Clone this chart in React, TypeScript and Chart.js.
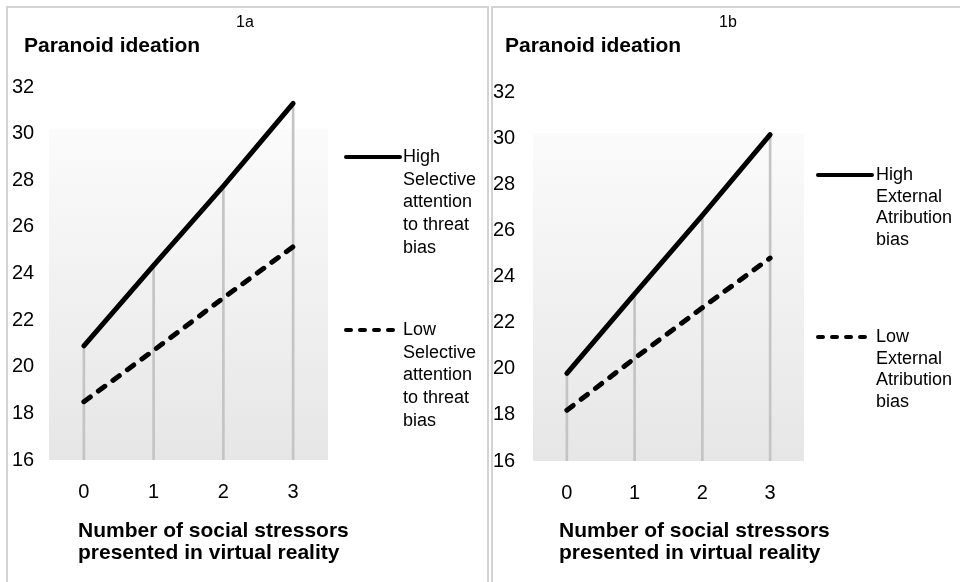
import React, { useEffect, useRef } from "react";
import { Chart, registerables } from "chart.js";

Chart.register(...registerables);

// ---------- data ----------
const CATEGORIES = ["0", "1", "2", "3"];
const Y_MIN = 16;
const Y_MAX = 32;
const Y_STEP = 2;

const HIGH_1A = [20.9, 24.35, 27.75, 31.3];
const LOW_1A = [18.5, 20.7, 22.95, 25.15];
const HIGH_1B = [19.8, 23.25, 26.65, 30.15];
const LOW_1B = [18.2, 20.45, 22.65, 24.8];

const PANEL_TITLES = ["1a", "1b"];
const Y_TITLE = "Paranoid ideation";
const X_TITLE = ["Number of social stressors", "presented in virtual reality"];
const LEGEND_1A_HIGH = ["High", "Selective", "attention", "to threat", "bias"];
const LEGEND_1A_LOW = ["Low", "Selective", "attention", "to threat", "bias"];
const LEGEND_1B_HIGH = ["High", "External", "Atribution", "bias"];
const LEGEND_1B_LOW = ["Low", "External", "Atribution", "bias"];

const FONT = "'Liberation Sans', Arial, Helvetica, sans-serif";

type PanelCfg = {
  title: string;
  titleCenter: number;
  high: number[];
  low: number[];
  highLabel: string[];
  lowLabel: string[];
  canvasLeft: number;
  canvasWidth: number;
  padLeft: number;
  padRight: number;
  padTop: number;
  yAxisWidth: number;
  xAxisHeight: number;
  legend: { x0: number; x1: number; tx: number; highY: number; lowY: number; lh: number };
  yTitleLeft: number;
  xTitleLeft: number;
  boxLeft: number;
  boxWidth: number;
};

const PANELS: PanelCfg[] = [
  {
    title: PANEL_TITLES[0],
    titleCenter: 245,
    high: HIGH_1A,
    low: LOW_1A,
    highLabel: LEGEND_1A_HIGH,
    lowLabel: LEGEND_1A_LOW,
    canvasLeft: 0,
    canvasWidth: 488,
    padLeft: 12,
    padRight: 160,
    padTop: 87,
    yAxisWidth: 37,
    xAxisHeight: 122,
    legend: { x0: 346, x1: 400, tx: 403, highY: 157, lowY: 330, lh: 22.7 },
    yTitleLeft: 24,
    xTitleLeft: 78,
    boxLeft: 6,
    boxWidth: 483,
  },
  {
    title: PANEL_TITLES[1],
    titleCenter: 728,
    high: HIGH_1B,
    low: LOW_1B,
    highLabel: LEGEND_1B_HIGH,
    lowLabel: LEGEND_1B_LOW,
    canvasLeft: 491,
    canvasWidth: 472,
    padLeft: 2,
    padRight: 159,
    padTop: 92,
    yAxisWidth: 40,
    xAxisHeight: 121,
    legend: { x0: 327, x1: 381, tx: 385, highY: 175, lowY: 337, lh: 21.6 },
    yTitleLeft: 505,
    xTitleLeft: 559,
    boxLeft: 491,
    boxWidth: 480,
  },
];

const plotBackground = {
  id: "plotBackground",
  beforeDatasetsDraw(chart: any) {
    const { ctx, chartArea } = chart;
    const { left, right, top, bottom } = chartArea;
    const y0 = top + (bottom - top) * 0.112;
    const g = ctx.createLinearGradient(0, y0, 0, bottom);
    g.addColorStop(0, "#fbfbfb");
    g.addColorStop(1, "#e6e6e6");
    ctx.save();
    ctx.fillStyle = g;
    ctx.fillRect(left, y0, right - left, bottom - y0);
    ctx.restore();
  },
};

const customLegend = {
  id: "customLegend",
  afterDraw(chart: any, _args: any, opts: any) {
    const { ctx } = chart;
    const L = opts.layout;
    const items = [
      { ds: chart.data.datasets[1], y: L.highY, lines: opts.high, dash: [] as number[] },
      { ds: chart.data.datasets[2], y: L.lowY, lines: opts.low, dash: [5, 9] },
    ];
    ctx.save();
    items.forEach((it) => {
      ctx.beginPath();
      ctx.strokeStyle = it.ds.borderColor;
      ctx.lineWidth = 4;
      ctx.lineCap = "round";
      ctx.setLineDash(it.ds.borderDash ? it.dash : []);
      ctx.moveTo(L.x0, it.y);
      ctx.lineTo(L.x1, it.y);
      ctx.stroke();
      ctx.setLineDash([]);
      ctx.fillStyle = "#000";
      ctx.font = `18px ${FONT}`;
      ctx.textAlign = "left";
      ctx.textBaseline = "middle";
      it.lines.forEach((t: string, i: number) => {
        ctx.fillText(t, L.tx, it.y + i * L.lh);
      });
    });
    ctx.restore();
  },
};

function Panel({ cfg }: { cfg: PanelCfg }) {
  const ref = useRef<HTMLCanvasElement | null>(null);

  useEffect(() => {
    if (!ref.current) return;
    const chart = new Chart(ref.current, {
      type: "line",
      data: {
        labels: CATEGORIES,
        datasets: [
          {
            type: "bar",
            label: "drop",
            data: cfg.high.map((v) => [Y_MIN, v]) as any,
            backgroundColor: "#c4c4c4",
            barThickness: 2,
            order: 3,
          } as any,
          {
            type: "line",
            label: cfg.highLabel.join(" "),
            data: cfg.high,
            borderColor: "#000",
            borderWidth: 5,
            pointRadius: 0,
            tension: 0,
            borderCapStyle: "round",
            fill: false,
            order: 1,
          },
          {
            type: "line",
            label: cfg.lowLabel.join(" "),
            data: cfg.low,
            borderColor: "#000",
            borderWidth: 5,
            borderDash: [8, 10],
            pointRadius: 0,
            tension: 0,
            borderCapStyle: "round",
            fill: false,
            order: 2,
          },
        ],
      },
      options: {
        animation: false,
        responsive: false,
        maintainAspectRatio: false,
        events: [],
        layout: { padding: { left: cfg.padLeft, right: cfg.padRight, top: cfg.padTop, bottom: 0 } },
        plugins: {
          legend: { display: false },
          tooltip: { enabled: false },
          title: { display: false },
          customLegend: { layout: cfg.legend, high: cfg.highLabel, low: cfg.lowLabel },
        } as any,
        scales: {
          x: {
            type: "category",
            offset: true,
            grid: { display: false, drawTicks: false },
            border: { display: false },
            ticks: { color: "#000", font: { family: FONT, size: 20 }, padding: 20 },
            afterFit: (s: any) => {
              s.height = cfg.xAxisHeight;
            },
          },
          y: {
            type: "linear",
            min: Y_MIN,
            max: Y_MAX,
            grid: { display: false, drawTicks: false },
            border: { display: false },
            ticks: {
              stepSize: Y_STEP,
              color: "#000",
              font: { family: FONT, size: 20 },
              crossAlign: "far",
              padding: 0,
            },
            afterFit: (s: any) => {
              s.width = cfg.yAxisWidth;
            },
          },
        },
      },
      plugins: [plotBackground, customLegend],
    });
    return () => chart.destroy();
  }, [cfg]);

  return (
    <>
      <div
        style={{
          position: "absolute",
          left: cfg.boxLeft,
          top: 6,
          width: cfg.boxWidth,
          height: 600,
          border: "2px solid #d3d3d3",
          boxSizing: "border-box",
        }}
      />
      <canvas
        ref={ref}
        width={cfg.canvasWidth}
        height={582}
        style={{ position: "absolute", left: cfg.canvasLeft, top: 0, width: cfg.canvasWidth, height: 582 }}
      />
      <div
        style={{
          position: "absolute",
          left: cfg.titleCenter - 50,
          width: 100,
          top: 12,
          textAlign: "center",
          font: `16px ${FONT}`,
          lineHeight: "20px",
          color: "#000",
        }}
      >
        {cfg.title}
      </div>
      <div
        style={{
          position: "absolute",
          left: cfg.yTitleLeft,
          top: 33,
          font: `bold 21px ${FONT}`,
          lineHeight: "24px",
          color: "#000",
          whiteSpace: "nowrap",
        }}
      >
        {Y_TITLE}
      </div>
      <div
        style={{
          position: "absolute",
          left: cfg.xTitleLeft,
          top: 519,
          font: `bold 21px ${FONT}`,
          lineHeight: "22px",
          color: "#000",
          whiteSpace: "nowrap",
        }}
      >
        {X_TITLE.map((t) => (
          <div key={t}>{t}</div>
        ))}
      </div>
    </>
  );
}

export default function App() {
  return (
    <div
      style={{
        position: "absolute",
        left: 0,
        top: 0,
        width: 960,
        height: 582,
        overflow: "hidden",
        background: "#fff",
        fontFamily: FONT,
      }}
    >
      {PANELS.map((p) => (
        <Panel key={p.title} cfg={p} />
      ))}
    </div>
  );
}
